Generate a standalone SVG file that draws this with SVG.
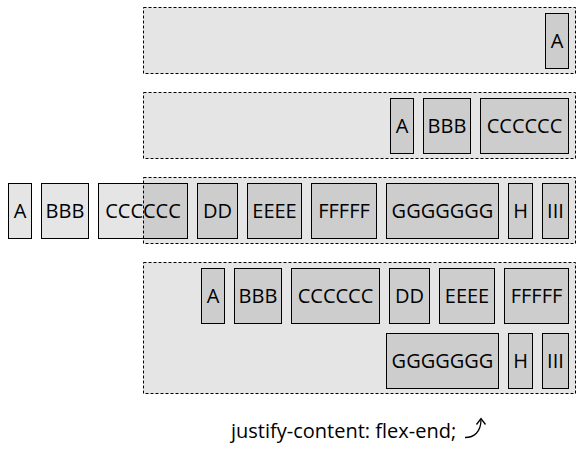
<svg xmlns="http://www.w3.org/2000/svg" width="581" height="450" viewBox="0 0 581 450">
<style>
.box{fill:#000;fill-opacity:0.1;stroke:none}
.cont{stroke:#000;stroke-width:1;stroke-dasharray:3,2;fill:none}
.item{fill:#000;fill-opacity:0.1;stroke:#000;stroke-width:1}
.t{font-family:"Open Sans","Noto Sans",sans-serif;font-size:20px;font-weight:500;fill:#000;text-anchor:middle}
.cap{font-family:"Open Sans","Noto Sans",sans-serif;font-size:20px;font-weight:500;fill:#000}
</style>
<rect width="581" height="450" fill="#fff"/>
<g id="container1">
<rect class="box" x="143.5" y="7.5" width="432" height="66"/>
<rect class="cont" x="143.5" y="7.5" width="432" height="66"/>
<g id="c1-A"><rect class="item" x="545.5" y="13.5" width="23" height="55"/><text class="t" x="557" y="48">A</text></g>
</g>
<g id="container2">
<rect class="box" x="143.5" y="92.5" width="432" height="66"/>
<rect class="cont" x="143.5" y="92.5" width="432" height="66"/>
<g id="c2-A"><rect class="item" x="390.5" y="98.5" width="23" height="55"/><text class="t" x="402" y="133">A</text></g>
<g id="c2-BBB"><rect class="item" x="423.5" y="98.5" width="47" height="55"/><text class="t" x="447" y="133">BBB</text></g>
<g id="c2-CCCCCC"><rect class="item" x="480.5" y="98.5" width="88" height="55"/><text class="t" x="524.5" y="133">CCCCCC</text></g>
</g>
<g id="container3">
<rect class="box" x="143.5" y="177.5" width="432" height="66"/>
<rect class="cont" x="143.5" y="177.5" width="432" height="66"/>
<g id="c3-A"><rect class="item" x="8.5" y="183.5" width="23" height="55"/><text class="t" x="20" y="218">A</text></g>
<g id="c3-BBB"><rect class="item" x="41.5" y="183.5" width="47" height="55"/><text class="t" x="65" y="218">BBB</text></g>
<g id="c3-CCCCCC"><rect class="item" x="98.5" y="183.5" width="89" height="55"/><text class="t" x="143" y="218">CCCCCC</text></g>
<g id="c3-DD"><rect class="item" x="197.5" y="183.5" width="40" height="55"/><text class="t" x="217.5" y="218">DD</text></g>
<g id="c3-EEEE"><rect class="item" x="247.5" y="183.5" width="54" height="55"/><text class="t" x="274.5" y="218">EEEE</text></g>
<g id="c3-FFFFF"><rect class="item" x="311.5" y="183.5" width="65" height="55"/><text class="t" x="344" y="218">FFFFF</text></g>
<g id="c3-GGGGGGG"><rect class="item" x="386.5" y="183.5" width="112" height="55"/><text class="t" x="442.5" y="218">GGGGGGG</text></g>
<g id="c3-H"><rect class="item" x="508.5" y="183.5" width="24" height="55"/><text class="t" x="520.5" y="218">H</text></g>
<g id="c3-III"><rect class="item" x="542.5" y="183.5" width="26" height="55"/><text class="t" x="555.5" y="218">III</text></g>
</g>
<g id="container4">
<rect class="box" x="143.5" y="262.5" width="432" height="131"/>
<rect class="cont" x="143.5" y="262.5" width="432" height="131"/>
<g id="c4-A"><rect class="item" x="201.5" y="268.5" width="23" height="55"/><text class="t" x="213" y="303">A</text></g>
<g id="c4-BBB"><rect class="item" x="234.5" y="268.5" width="47" height="55"/><text class="t" x="258" y="303">BBB</text></g>
<g id="c4-CCCCCC"><rect class="item" x="291.5" y="268.5" width="88" height="55"/><text class="t" x="335.5" y="303">CCCCCC</text></g>
<g id="c4-DD"><rect class="item" x="389.5" y="268.5" width="40" height="55"/><text class="t" x="409.5" y="303">DD</text></g>
<g id="c4-EEEE"><rect class="item" x="439.5" y="268.5" width="55" height="55"/><text class="t" x="467" y="303">EEEE</text></g>
<g id="c4-FFFFF"><rect class="item" x="504.5" y="268.5" width="64" height="55"/><text class="t" x="536.5" y="303">FFFFF</text></g>
<g id="c4-GGGGGGG"><rect class="item" x="386.5" y="333.5" width="112" height="55"/><text class="t" x="442.5" y="368">GGGGGGG</text></g>
<g id="c4-H"><rect class="item" x="508.5" y="333.5" width="24" height="55"/><text class="t" x="520.5" y="368">H</text></g>
<g id="c4-III"><rect class="item" x="542.5" y="333.5" width="26" height="55"/><text class="t" x="555.5" y="368">III</text></g>
</g>
<g id="caption">
<text class="cap" x="231" y="438">justify-content: flex-end;</text>
</g>
<g id="connectors">
<path d="M465,437.5 C474,437.5 481,432 481,419.5" fill="none" stroke="#000" stroke-width="1.3"/>
<path d="M476.5,424.5 L481,418.5 L485.5,424.5" fill="none" stroke="#000" stroke-width="1.3"/>
</g>
</svg>
